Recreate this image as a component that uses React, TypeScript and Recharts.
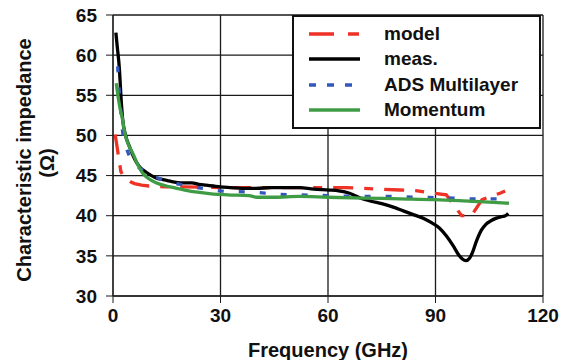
import { LineChart, Line, XAxis, YAxis, CartesianGrid, Legend, Label } from "recharts";

// frequency in GHz, impedance in ohm
const modelFreq = [0.6, 1, 1.6, 2.2, 3, 4, 5, 6, 8, 10, 15, 20, 30, 40, 50, 60, 65, 70, 75, 80, 85, 88, 93, 97.3, 100, 103, 106, 108, 110];
const modelZ = [50.1, 49, 47.2, 45.5, 44.9, 44.5, 44.2, 44.0, 43.8, 43.7, 43.6, 43.6, 43.5, 43.5, 43.5, 43.5, 43.5, 43.4, 43.3, 43.2, 43.1, 42.9, 42.6, 40.0, 40.0, 42.0, 42.5, 42.8, 43.2];

const measFreq = [0.8, 1.2, 1.8, 2.2, 2.7, 3.5, 4.6, 6, 7.4, 9, 12, 14, 16, 19.5, 22, 24, 26, 28, 30, 33, 36, 40, 44, 48, 52, 56, 60.5, 63, 66, 69, 72, 75, 78, 81, 84, 87, 89, 91, 93, 95, 96.5, 97.5, 98.5, 99.5, 100.3, 101.4, 102.8, 104, 105.2, 107, 108.5, 109.5, 110.3];
const measZ = [62.8, 61.0, 58.2, 55.0, 52.0, 50.0, 48.6, 47.1, 46.1, 45.5, 44.7, 44.5, 44.3, 44.1, 44.1, 43.9, 43.8, 43.7, 43.6, 43.5, 43.4, 43.4, 43.5, 43.5, 43.5, 43.3, 43.2, 43.1, 42.8, 42.2, 41.8, 41.5, 41.1, 40.6, 40.1, 39.6, 39.1, 38.5, 37.5, 36.2, 35.1, 34.6, 34.4, 34.7, 35.4, 36.8, 38.2, 38.9, 39.3, 39.7, 39.9, 40.0, 40.3];

const adsFreq = [1.3, 2, 2.7, 3.5, 4.6, 6, 7.5, 9.3, 12, 15.8, 20, 25, 30, 35, 40, 45, 52, 60, 70, 77, 85, 95, 100, 108, 110];
const adsZ = [58.6, 54.0, 50.4, 48.8, 47.4, 46.5, 45.9, 45.5, 44.8, 44.2, 43.8, 43.4, 43.1, 43.0, 42.9, 42.7, 42.6, 42.5, 42.4, 42.4, 42.3, 42.2, 42.1, 42.1, 42.0];

const momFreq = [0.9, 1.5, 2, 2.7, 3, 4, 5.5, 7, 8.3, 10, 12, 14.9, 17, 20, 24.2, 28, 32, 38, 40, 45, 52, 60, 70, 80, 90, 100, 105, 110.5];
const momZ = [56.5, 54.6, 53.3, 51.9, 51.0, 49.2, 47.8, 46.3, 45.3, 44.6, 44.1, 43.7, 43.5, 43.2, 42.9, 42.7, 42.6, 42.5, 42.3, 42.3, 42.4, 42.3, 42.2, 42.1, 42.0, 41.8, 41.7, 41.55];

const xTicks = [0, 30, 60, 90, 120];
const yTicks = [30, 35, 40, 45, 50, 55, 60, 65];

const series = [
  { name: "model", color: "#ee3226", dash: "20 11 9 11", key: "25 14 11 40", freq: modelFreq, z: modelZ },
  { name: "meas.", color: "#000000", dash: undefined, key: undefined, freq: measFreq, z: measZ },
  { name: "ADS Multilayer", color: "#3457bd", dash: "6 15", key: "7 11", freq: adsFreq, z: adsZ },
  { name: "Momentum", color: "#3f9c45", dash: undefined, key: undefined, freq: momFreq, z: momZ },
];

const font = "'Liberation Sans', Arial, sans-serif";
const tickStyle = { fontSize: 19, fontWeight: 700, fill: "#111", fontFamily: font };

function LegendBox() {
  return (
    <div
      style={{
        width: "100%",
        height: "100%",
        boxSizing: "border-box",
        border: "2px solid #111",
        background: "#fff",
        paddingTop: 4,
        fontFamily: font,
      }}
    >
      {series.map((s) => (
        <div key={s.name} style={{ display: "flex", alignItems: "center", height: 25.5 }}>
          <svg width={90} height={10} style={{ flex: "none" }}>
            <line x1={15} x2={66} y1={5} y2={5} stroke={s.color} strokeWidth={3.5} strokeDasharray={s.key} />
          </svg>
          <span style={{ fontSize: 19, fontWeight: 700, color: "#111" }}>{s.name}</span>
        </div>
      ))}
    </div>
  );
}

export default function App() {
  return (
    <div style={{ width: 566, height: 360, background: "#fff" }}>
      <style>{`body{margin:0}`}</style>
      <LineChart width={566} height={360} margin={{ top: 15, right: 23, bottom: 0, left: 0 }}>
        <CartesianGrid stroke="#1a1a1a" strokeWidth={1.3} />
        <XAxis
          type="number"
          dataKey="f"
          domain={[0, 120]}
          ticks={xTicks}
          allowDataOverflow
          height={64}
          tickSize={7}
          tickMargin={6}
          tick={tickStyle}
          stroke="#1a1a1a"
        >
          <Label
            content={() => (
              <text x={328} y={357} textAnchor="middle" style={{ fontSize: 20, fontWeight: 700, fill: "#111", fontFamily: font }}>
                Frequency (GHz)
              </text>
            )}
          />
        </XAxis>
        <YAxis
          type="number"
          domain={[30, 65]}
          ticks={yTicks}
          allowDataOverflow
          width={113}
          tickSize={7}
          tickMargin={9}
          tick={tickStyle}
          stroke="#1a1a1a"
        >
          <Label
            content={() => (
              <g style={{ fontSize: 20, fontWeight: 700, fill: "#111", fontFamily: font }}>
                <text x={31} y={160} textAnchor="middle" transform="rotate(-90 31 160)">
                  Characteristic impedance
                </text>
                <text x={54} y={163} textAnchor="middle" transform="rotate(-90 54 163)">
                  (Ω)
                </text>
              </g>
            )}
          />
        </YAxis>
        {series.map((s) => (
          <Line
            key={s.name}
            name={s.name}
            data={s.freq.map((f, i) => ({ f, z: s.z[i] }))}
            dataKey="z"
            type={s.name === "model" ? "linear" : "monotone"}
            stroke={s.color}
            strokeWidth={3.3}
            strokeDasharray={s.dash}
            dot={false}
            activeDot={false}
            isAnimationActive={false}
          />
        ))}
        <Legend
          layout="vertical"
          align="center"
          verticalAlign="middle"
          content={() => <LegendBox />}
          wrapperStyle={{ left: 292, top: 15, width: 249, height: 114 }}
        />
      </LineChart>
    </div>
  );
}
